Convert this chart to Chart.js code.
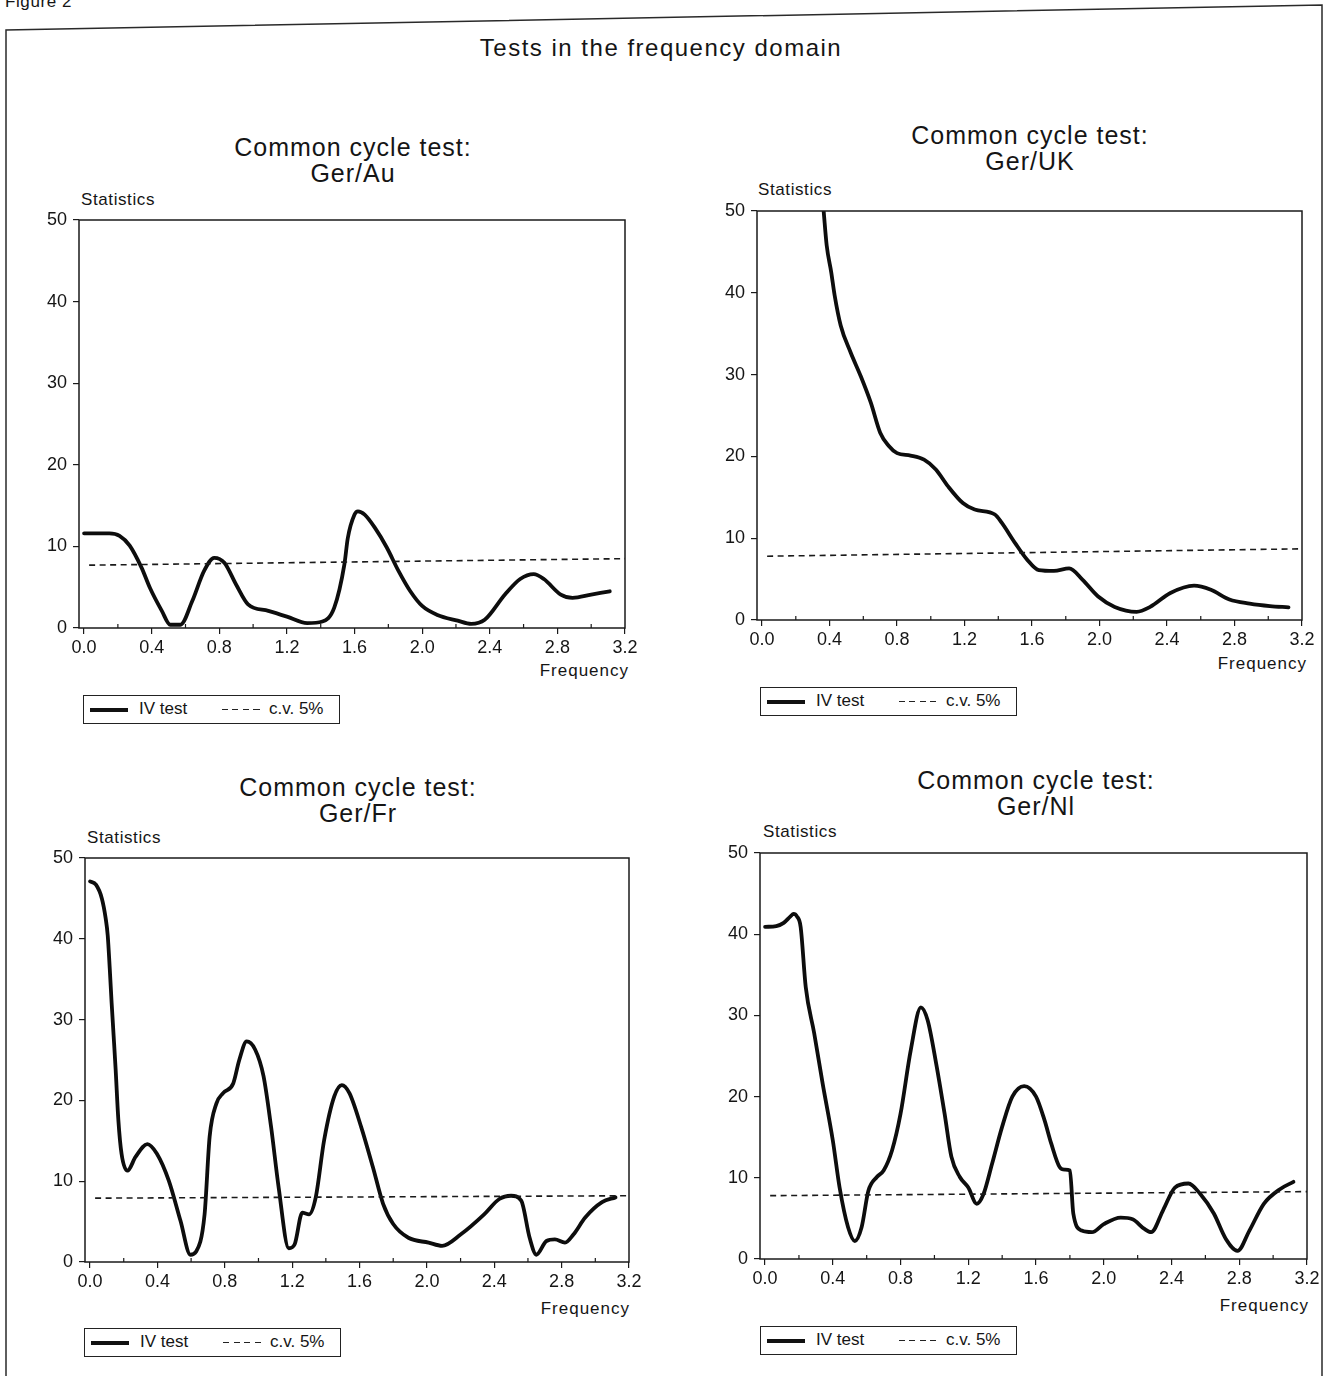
<!DOCTYPE html>
<html><head><meta charset="utf-8">
<script src="https://cdn.jsdelivr.net/npm/chart.js@4.4.1/dist/chart.umd.min.js"></script>
<style>
html,body{margin:0;padding:0;background:#fff;}
body{width:1332px;height:1376px;position:relative;overflow:hidden;font-family:"Liberation Sans",Arial,Helvetica,sans-serif;color:#151515;}
.ttl{position:absolute;font-size:25px;letter-spacing:1px;text-align:center;line-height:26px;transform:translateX(-50%);white-space:nowrap;}
.main{position:absolute;font-size:24px;letter-spacing:1.5px;line-height:28px;transform:translateX(-50%);white-space:nowrap;}
.stat{position:absolute;font-size:17px;letter-spacing:0.6px;line-height:20px;white-space:nowrap;}
.freq{position:absolute;font-size:17px;letter-spacing:1px;line-height:20px;white-space:nowrap;transform:translateX(-100%);}
.leg{position:absolute;width:257px;height:29px;border:1.5px solid #222;box-sizing:border-box;font-size:17px;}
.leg .sl{position:absolute;left:6px;top:12px;width:38px;height:3.5px;background:#111;}
.leg .dl{position:absolute;left:138px;top:12.5px;width:38px;height:1.6px;background:repeating-linear-gradient(90deg,#222 0 6px,transparent 6px 10.5px);}
.leg .t1{position:absolute;left:55px;top:3px;line-height:20px;}
.leg .t2{position:absolute;left:185px;top:3px;line-height:20px;}
canvas{position:absolute;}
</style>
</head><body>
<svg width="1332" height="1376" style="position:absolute;left:0;top:0">
  <polyline points="6,1376 6,30 1322,5 1322,1376" fill="none" stroke="#2a2a2a" stroke-width="1.5"/>
</svg>
<div class="stat" style="left:5px;top:-8px;font-size:17px;">Figure 2</div>
<div class="main" style="left:661px;top:34px;">Tests in the frequency domain</div>

<div class="ttl" style="left:353px;top:134px;">Common cycle test:<br>Ger/Au</div>
<div class="ttl" style="left:1030px;top:122px;">Common cycle test:<br>Ger/UK</div>
<div class="ttl" style="left:358px;top:774px;">Common cycle test:<br>Ger/Fr</div>
<div class="ttl" style="left:1036px;top:767px;">Common cycle test:<br>Ger/Nl</div>

<div class="stat" style="left:81px;top:190px;">Statistics</div>
<div class="stat" style="left:758px;top:180px;">Statistics</div>
<div class="stat" style="left:87px;top:828px;">Statistics</div>
<div class="stat" style="left:763px;top:822px;">Statistics</div>

<div class="freq" style="left:629px;top:661px;">Frequency</div>
<div class="freq" style="left:1307px;top:654px;">Frequency</div>
<div class="freq" style="left:630px;top:1299px;">Frequency</div>
<div class="freq" style="left:1309px;top:1296px;">Frequency</div>

<div class="leg" style="left:83px;top:695px;"><div class="sl"></div><div class="t1">IV test</div><div class="dl"></div><div class="t2">c.v. 5%</div></div>
<div class="leg" style="left:760px;top:687px;"><div class="sl"></div><div class="t1">IV test</div><div class="dl"></div><div class="t2">c.v. 5%</div></div>
<div class="leg" style="left:84px;top:1328px;"><div class="sl"></div><div class="t1">IV test</div><div class="dl"></div><div class="t2">c.v. 5%</div></div>
<div class="leg" style="left:760px;top:1326px;"><div class="sl"></div><div class="t1">IV test</div><div class="dl"></div><div class="t2">c.v. 5%</div></div>

<canvas id="cAu"></canvas>
<canvas id="cUk"></canvas>
<canvas id="cFr"></canvas>
<canvas id="cNl"></canvas>

<script>
// ---- data ----
const xTicks = [0.0, 0.4, 0.8, 1.2, 1.6, 2.0, 2.4, 2.8, 3.2];
const xMinorTicks = [0.2, 0.6, 1.0, 1.4, 1.8, 2.2, 2.6, 3.0];
const yTicks = [0, 10, 20, 30, 40, 50];

const freqAu = [0, 0.15, 0.21, 0.27, 0.34, 0.39, 0.46, 0.51, 0.57, 0.64, 0.71, 0.77, 0.83, 0.90, 0.97, 1.09, 1.20, 1.32, 1.41, 1.48, 1.54, 1.56, 1.60, 1.62, 1.66, 1.72, 1.79, 1.86, 1.93, 2.00, 2.09, 2.21, 2.29, 2.37, 2.49, 2.58, 2.66, 2.72, 2.82, 2.89, 3.00, 3.11];
const ivAu   = [11.6, 11.6, 11.3, 10.1, 7.4, 4.9, 2.1, 0.4, 0.4, 3.3, 7.0, 8.6, 8.0, 5.3, 2.9, 2.1, 1.4, 0.6, 0.8, 2.5, 7.8, 11.0, 13.9, 14.3, 13.9, 12.3, 9.9, 7.0, 4.5, 2.7, 1.6, 0.9, 0.5, 1.0, 4.1, 6.0, 6.6, 6.0, 4.1, 3.7, 4.1, 4.5];

const freqUk = [0.365, 0.383, 0.41, 0.43, 0.466, 0.525, 0.585, 0.644, 0.70, 0.75, 0.80, 0.88, 0.96, 1.03, 1.10, 1.19, 1.26, 1.38, 1.42, 1.50, 1.57, 1.64, 1.73, 1.82, 1.90, 1.99, 2.09, 2.22, 2.30, 2.42, 2.56, 2.66, 2.77, 2.89, 3.01, 3.12];
const ivUk   = [50, 45.8, 42.5, 39.7, 36.0, 32.7, 29.8, 26.6, 22.9, 21.3, 20.4, 20.1, 19.6, 18.4, 16.4, 14.3, 13.5, 12.9, 11.9, 9.4, 7.4, 6.1, 6.0, 6.3, 4.9, 2.9, 1.6, 1.0, 1.6, 3.3, 4.2, 3.7, 2.5, 2.0, 1.7, 1.55];

const freqFr = [0, 0.035, 0.07, 0.093, 0.105, 0.117, 0.128, 0.14, 0.152, 0.168, 0.187, 0.222, 0.27, 0.34, 0.397, 0.467, 0.537, 0.596, 0.63, 0.68, 0.71, 0.75, 0.79, 0.85, 0.886, 0.93, 0.98, 1.03, 1.075, 1.12, 1.18, 1.215, 1.26, 1.30, 1.34, 1.39, 1.45, 1.495, 1.54, 1.61, 1.68, 1.74, 1.80, 1.89, 2.01, 2.09, 2.20, 2.34, 2.43, 2.50, 2.56, 2.61, 2.65, 2.71, 2.76, 2.82, 2.87, 2.94, 3.04, 3.12];
const ivFr   = [47.1, 46.7, 45.0, 42.5, 40.4, 36.3, 32.1, 28.0, 23.8, 17.6, 13.4, 11.3, 13.0, 14.6, 13.4, 10.1, 5.1, 0.9, 1.3, 5.9, 15.5, 19.6, 20.9, 22.1, 25.0, 27.3, 26.3, 23.0, 16.7, 9.2, 1.7, 2.2, 6.1, 5.9, 8.0, 15.1, 20.5, 21.9, 20.9, 16.7, 11.7, 7.2, 4.7, 3.0, 2.4, 2.0, 3.4, 5.9, 7.8, 8.2, 7.6, 3.0, 0.9, 2.6, 2.8, 2.4, 3.4, 5.5, 7.4, 8.0];

const freqNl = [0, 0.066, 0.11, 0.15, 0.168, 0.188, 0.21, 0.24, 0.29, 0.34, 0.40, 0.44, 0.49, 0.53, 0.57, 0.61, 0.66, 0.70, 0.75, 0.80, 0.86, 0.92, 0.96, 1.01, 1.06, 1.10, 1.15, 1.20, 1.25, 1.29, 1.34, 1.40, 1.46, 1.53, 1.60, 1.65, 1.69, 1.74, 1.77, 1.80, 1.82, 1.87, 1.93, 2.00, 2.10, 2.17, 2.24, 2.28, 2.35, 2.42, 2.50, 2.57, 2.65, 2.72, 2.79, 2.86, 2.945, 3.04, 3.12];
const ivNl   = [40.9, 41.0, 41.4, 42.2, 42.5, 42.2, 40.9, 33.5, 27.8, 21.6, 14.6, 8.8, 3.9, 2.2, 3.9, 8.4, 10.1, 10.9, 13.4, 17.9, 25.7, 31.0, 29.4, 24.1, 17.9, 12.6, 10.1, 8.8, 6.8, 8.0, 11.7, 16.3, 20.0, 21.3, 20.0, 17.1, 14.2, 11.3, 11.0, 10.9, 5.6, 3.5, 3.3, 4.3, 5.1, 4.9, 3.7, 3.3, 6.0, 8.8, 9.3, 8.0, 5.6, 2.5, 1.0, 3.5, 6.8, 8.6, 9.5];

// critical value (5%) line, as drawn
const cvFreq = [0.03, 3.2];
const cvAu = [7.7, 8.5];
const cvUk = [7.8, 8.7];
const cvFr = [7.9, 8.2];
const cvNl = [7.8, 8.3];

// ---- drawing ----
Chart.defaults.font.family = "'Liberation Sans', Arial, Helvetica, sans-serif";
Chart.defaults.font.size = 18;
Chart.defaults.color = '#151515';

const framePlugin = {
  id: 'frame',
  afterDatasetsDraw(chart) {
    const {ctx, chartArea: a, scales} = chart;
    ctx.save();
    ctx.strokeStyle = '#1a1a1a';
    ctx.lineWidth = 1.5;
    ctx.strokeRect(a.left, a.top, a.right - a.left, a.bottom - a.top);
    ctx.lineWidth = 1.2;
    ctx.beginPath();
    xMinorTicks.forEach(v => {
      const px = scales.x.getPixelForValue(v);
      ctx.moveTo(px, a.bottom);
      ctx.lineTo(px, a.bottom - 4);
    });
    ctx.stroke();
    ctx.restore();
  }
};

function makeChart(id, L, T, R, B, freq, iv, cv) {
  const cvs = document.getElementById(id);
  const w = R - L + 80, h = B - T + 60;
  cvs.width = w; cvs.height = h;
  cvs.style.left = (L - 60) + 'px';
  cvs.style.top = (T - 20) + 'px';
  cvs.style.width = w + 'px';
  cvs.style.height = h + 'px';
  new Chart(cvs, {
    type: 'line',
    data: {
      datasets: [
        {
          label: 'c.v. 5%',
          data: cvFreq.map((f, i) => ({x: f, y: cv[i]})),
          borderColor: '#1a1a1a', borderWidth: 1.6, borderDash: [6, 4.5],
          pointRadius: 0, tension: 0
        },
        {
          label: 'IV test',
          data: freq.map((f, i) => ({x: f, y: iv[i]})),
          borderColor: '#0d0d0d', borderWidth: 3.8,
          pointRadius: 0, cubicInterpolationMode: 'monotone',
          borderCapStyle: 'round', borderJoinStyle: 'round'
        }
      ]
    },
    options: {
      responsive: false, animation: false, devicePixelRatio: 1,
      layout: {padding: {left: 10, top: 20, right: 20, bottom: 0}},
      plugins: {legend: {display: false}, tooltip: {enabled: false}},
      scales: {
        x: {
          type: 'linear', min: -0.03, max: 3.2,
          border: {display: false},
          grid: {drawOnChartArea: false, drawTicks: true, tickLength: 6, color: '#1a1a1a', lineWidth: 1.2},
          ticks: {padding: 3, maxRotation: 0, autoSkip: false, color: '#151515',
                  callback: v => Number(v).toFixed(1)},
          afterBuildTicks: s => { s.ticks = xTicks.map(v => ({value: v})); },
          afterFit: s => { s.height = 40; s.paddingLeft = 0; s.paddingRight = 0; }
        },
        y: {
          type: 'linear', min: 0, max: 50,
          border: {display: false},
          grid: {drawOnChartArea: false, drawTicks: true, tickLength: 6, color: '#1a1a1a', lineWidth: 1.2},
          ticks: {padding: 6, color: '#151515'},
          afterBuildTicks: s => { s.ticks = yTicks.map(v => ({value: v})); },
          afterFit: s => { s.width = 50; s.paddingTop = 0; s.paddingBottom = 0; }
        }
      }
    },
    plugins: [framePlugin]
  });
}

makeChart('cAu', 79, 220, 625, 628, freqAu, ivAu, cvAu);
makeChart('cUk', 757, 211, 1302, 620, freqUk, ivUk, cvUk);
makeChart('cFr', 85, 858, 629, 1262, freqFr, ivFr, cvFr);
makeChart('cNl', 760, 853, 1307, 1259, freqNl, ivNl, cvNl);
</script>
</body></html>
